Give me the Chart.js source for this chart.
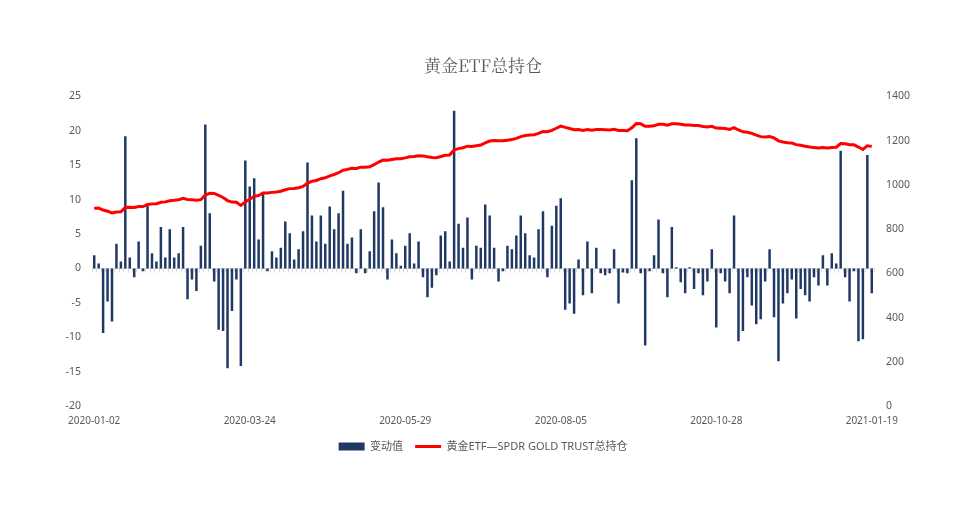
<!DOCTYPE html>
<html>
<head>
<meta charset="utf-8">
<script src="https://cdn.jsdelivr.net/npm/chart.js@4.4.1/dist/chart.umd.min.js"></script>
<style>
  html, body { margin: 0; padding: 0; background: #ffffff; }
  #wrap { width: 966px; height: 518px; position: relative; }
</style>
</head>
<body>
<div id="wrap"><canvas id="c"></canvas></div>
<script>
// ---- data ----
const tickLabels = ['2020-01-02', '2020-03-24', '2020-05-29', '2020-08-05', '2020-10-28', '2021-01-19'];
const tickStep = 35;

const changes = [
  1.9, 0.7, -9.4, -4.8, -7.7, 3.6, 1.0, 19.2, 1.6, -1.3,
  3.9, -0.4, 9.1, 2.2, 1.0, 6.0, 1.6, 5.7, 1.6, 2.2,
  6.0, -4.5, -1.6, -3.3, 3.3, 20.9, 8.0, -1.9, -8.9, -9.1,
  -14.5, -6.2, -1.6, -14.2, 15.7, 11.9, 13.1, 4.2, 10.9, -0.4,
  2.5, 1.6, 3.0, 6.8, 5.1, 1.3, 2.8, 5.4, 15.4, 7.7,
  3.9, 7.7, 3.6, 9.0, 5.7, 8.0, 11.3, 3.6, 4.5, -0.7,
  5.7, -0.7, 2.5, 8.3, 12.5, 8.9, -1.6, 4.2, 2.2, 0.4,
  3.3, 5.1, 0.7, 3.9, -1.3, -4.2, -2.8, -1.0, 4.8, 5.4,
  1.0, 22.9, 6.5, 3.0, 7.4, -1.6, 3.3, 3.0, 9.3, 7.7,
  3.0, -1.9, -0.4, 3.3, 2.8, 4.8, 7.7, 5.1, 1.9, 1.6,
  5.7, 8.3, -1.3, 6.2, 9.1, 10.2, -6.0, -5.1, -6.6, 1.3,
  -3.9, 3.9, -3.6, 3.0, -0.7, -1.0, -0.7, 2.8, -5.1, -0.6,
  -0.7, 12.8, 18.9, -0.7, -11.2, -0.4, 1.9, 7.1, -0.7, -4.2,
  6.0, 0.15, -2.0, -3.6, 0.15, -3.0, -0.7, -3.9, -1.9, 2.8,
  -8.6, -0.7, -1.9, -3.6, 7.7, -10.6, -9.1, -1.3, -5.4, -8.1,
  -7.4, -1.9, 2.8, -7.1, -13.5, -5.1, -3.6, -1.6, -7.3, -3.0,
  -3.9, -4.8, -1.3, -2.5, 1.9, -2.5, 2.2, 0.7, 17.1, -1.3,
  -4.8, -0.4, -10.6, -10.3, 16.5, -3.6
];

const holdings = [
  894, 895, 886, 881, 873, 877, 878, 898, 899, 898,
  902, 902, 911, 914, 915, 921, 923, 928, 930, 933,
  939, 934, 933, 930, 933, 954, 962, 961, 952, 943,
  929, 922, 921, 907, 923, 935, 948, 952, 963, 963,
  966, 968, 971, 978, 983, 984, 987, 993, 1008, 1016,
  1020, 1028, 1032, 1041, 1047, 1055, 1066, 1070, 1075, 1074,
  1080, 1080, 1082, 1091, 1103, 1112, 1111, 1115, 1118, 1118,
  1122, 1127, 1128, 1132, 1131, 1127, 1124, 1123, 1128, 1134,
  1135, 1158, 1164, 1168, 1175, 1174, 1177, 1180, 1190, 1198,
  1201, 1199, 1199, 1202, 1205, 1210, 1218, 1223, 1225, 1227,
  1233, 1241, 1240, 1246, 1256, 1266, 1260, 1255, 1249, 1250,
  1246, 1250, 1247, 1250, 1250, 1249, 1248, 1251, 1246, 1246,
  1245, 1258, 1277, 1276, 1265, 1265, 1267, 1274, 1274, 1270,
  1276, 1276, 1274, 1271, 1271, 1268, 1268, 1264, 1262, 1265,
  1257, 1256, 1255, 1251, 1259, 1248, 1240, 1238, 1233, 1225,
  1218, 1216, 1219, 1212, 1199, 1194, 1190, 1189, 1182, 1179,
  1175, 1171, 1169, 1167, 1169, 1167, 1169, 1170, 1187, 1186,
  1181, 1181, 1171, 1160, 1177, 1174
];

const barName = '变动值';
const lineName = '黄金ETF—SPDR GOLD TRUST总持仓';
const titleText = '黄金ETF总持仓';

// category labels: only the dates shown on the axis are named
const categories = changes.map((_, i) => (i % tickStep === 0 ? (tickLabels[i / tickStep] || '') : ''));

// ---- styles ----
const NAVY = '#1f3864';
const RED = '#ff0000';
const TEXT = '#595959';
const AXIS = '#d9d9d9';
const FONT = "'Noto Sans', 'Noto Sans CJK SC', sans-serif";

const zeroAxis = {
  id: 'zeroAxis',
  beforeDatasetsDraw(chart) {
    const { ctx, chartArea, scales } = chart;
    const y0 = Math.round(scales.y.getPixelForValue(0)) + 0.5;
    const xs = scales.x;
    const n = chart.data.labels.length;
    ctx.save();
    ctx.strokeStyle = AXIS;
    ctx.lineWidth = 1;
    ctx.beginPath();
    ctx.moveTo(chartArea.left, y0);
    ctx.lineTo(chartArea.right, y0);
    for (let i = 0; i <= n; i++) {
      const px = Math.round(xs.getPixelForValue(i - 0.5)) + 0.5;
      ctx.moveTo(px, y0);
      ctx.lineTo(px, y0 + 4);
    }
    ctx.stroke();
    ctx.restore();
  }
};

new Chart(document.getElementById('c'), {
  data: {
    labels: categories,
    datasets: [
      {
        type: 'line',
        label: lineName,
        data: holdings,
        yAxisID: 'y1',
        borderColor: RED,
        backgroundColor: RED,
        borderWidth: 3,
        pointRadius: 0,
        tension: 0,
        order: 0
      },
      {
        type: 'bar',
        label: barName,
        data: changes,
        yAxisID: 'y',
        backgroundColor: NAVY,
        borderWidth: 0,
        categoryPercentage: 1.0,
        barPercentage: 0.56,
        order: 1
      }
    ]
  },
  options: {
    responsive: true,
    maintainAspectRatio: false,
    animation: false,
    layout: { padding: { left: 0, right: 0, top: 0, bottom: 56 } },
    plugins: {
      title: {
        display: true,
        text: titleText,
        color: TEXT,
        font: { family: "'Noto Serif CJK SC', 'Liberation Serif', 'Noto Sans CJK SC', serif", size: 17, weight: 'normal' },
        padding: { top: 55, bottom: 21 }
      },
      legend: {
        position: 'bottom',
        labels: {
          usePointStyle: true,
          pointStyleWidth: 26,
          boxHeight: 8,
          padding: 12,
          color: TEXT,
          font: { family: FONT, size: 11 },
          generateLabels: () => [
            { text: barName, fillStyle: NAVY, strokeStyle: NAVY, lineWidth: 0, pointStyle: 'rect', datasetIndex: 1, hidden: false, fontColor: TEXT },
            { text: lineName, fillStyle: RED, strokeStyle: RED, lineWidth: 3, pointStyle: 'line', datasetIndex: 0, hidden: false, fontColor: TEXT }
          ]
        }
      },
      tooltip: { enabled: false }
    },
    scales: {
      x: {
        grid: { display: false, drawTicks: false },
        border: { display: false },
        ticks: {
          autoSkip: false,
          maxRotation: 0,
          minRotation: 0,
          padding: 9,
          color: TEXT,
          font: { family: FONT, size: 10 }
        },
        afterFit(scale) { scale.height = 23; }
      },
      y: {
        position: 'left',
        min: -20,
        max: 25,
        grid: { display: false, drawTicks: false },
        border: { display: false },
        ticks: { stepSize: 5, padding: 11, color: TEXT, font: { family: FONT, size: 10.5 } },
        afterFit(scale) { scale.width = 92; }
      },
      y1: {
        position: 'right',
        min: 0,
        max: 1400,
        grid: { display: false, drawTicks: false },
        border: { display: false },
        ticks: {
          stepSize: 200,
          padding: 12,
          color: TEXT,
          font: { family: FONT, size: 10.5 },
          callback: (v) => String(v)
        },
        afterFit(scale) { scale.width = 92; }
      }
    }
  },
  plugins: [zeroAxis]
});
</script>
</body>
</html>
